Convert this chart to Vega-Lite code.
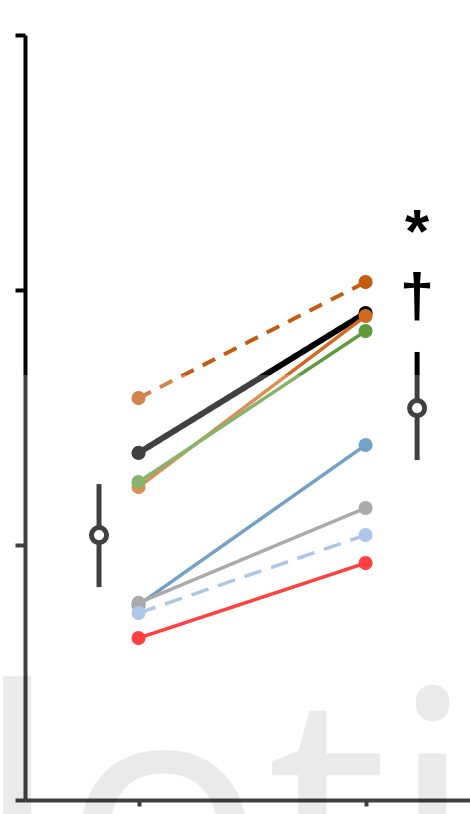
{
  "$schema": "https://vega.github.io/schema/vega-lite/v6.json",
  "width": 445,
  "height": 765,
  "autosize": {"type": "none"},
  "padding": {"left": 25, "top": 35, "right": 0, "bottom": 14},
  "background": "white",
  "config": {"view": {"stroke": null}},
  "datasets": {
    "subjects": [
      {"subject": "P1", "time": 1, "score": 1.361},
      {"subject": "P1", "time": 2, "score": 1.910},
      {"subject": "P2", "time": 1, "score": 1.227},
      {"subject": "P2", "time": 2, "score": 1.898},
      {"subject": "P3", "time": 1, "score": 1.247},
      {"subject": "P3", "time": 2, "score": 1.839},
      {"subject": "P4", "time": 1, "score": 0.765},
      {"subject": "P4", "time": 2, "score": 1.392},
      {"subject": "P5", "time": 1, "score": 0.773},
      {"subject": "P5", "time": 2, "score": 1.145},
      {"subject": "P6", "time": 1, "score": 0.733},
      {"subject": "P6", "time": 2, "score": 1.039},
      {"subject": "P7", "time": 1, "score": 0.635},
      {"subject": "P7", "time": 2, "score": 0.929},
      {"subject": "P8", "time": 1, "score": 1.576},
      {"subject": "P8", "time": 2, "score": 2.031}
    ],
    "summary": [
      {"time": 0.826, "mean": 1.039, "lo": 0.835, "hi": 1.239},
      {"time": 2.227, "mean": 1.537, "lo": 1.333, "hi": 1.757}
    ],
    "significance": [
      {"label": "*", "time": 2.227, "score": 2.149},
      {"label": "†", "time": 2.227, "score": 1.898}
    ],
    "watermark": [
      {"label": "loti", "time": 0.275, "score": -0.537}
    ]
  },
  "layer": [
    {
      "data": {"name": "subjects"},
      "mark": {"type": "line", "strokeCap": "butt"},
      "encoding": {
        "x": {
          "field": "time", "type": "quantitative",
          "scale": {"domain": [0.5, 2.46], "nice": false, "zero": false},
          "axis": {"values": [1, 2], "labels": false, "title": null, "grid": false,
                   "domainColor": "black", "domainWidth": 4,
                   "tickColor": "black", "tickWidth": 4, "tickSize": 6}
        },
        "y": {
          "field": "score", "type": "quantitative",
          "scale": {"domain": [0, 3], "nice": false, "zero": false},
          "axis": {"values": [0, 1, 2, 3], "labels": false, "title": null, "grid": false,
                   "domainColor": "black", "domainWidth": 4,
                   "tickColor": "black", "tickWidth": 4, "tickSize": 10}
        },
        "color": {
          "field": "subject", "type": "nominal", "legend": null,
          "scale": {
            "domain": ["P1", "P2", "P3", "P4", "P5", "P6", "P7", "P8"],
            "range": ["#000000", "#d2691e", "#5e9a3c", "#4682b4", "#8e8e8e", "#93b5e0", "#ff0000", "#c55a11"]
          }
        },
        "strokeWidth": {
          "field": "subject", "type": "nominal", "legend": null,
          "scale": {
            "type": "ordinal",
            "domain": ["P1", "P2", "P3", "P4", "P5", "P6", "P7", "P8"],
            "range": [6, 3.5, 3.5, 3.5, 3.5, 3.5, 3.5, 4]
          }
        },
        "strokeDash": {
          "field": "subject", "type": "nominal", "legend": null,
          "scale": {
            "domain": ["P1", "P2", "P3", "P4", "P5", "P6", "P7", "P8"],
            "range": [[1, 0], [1, 0], [1, 0], [1, 0], [1, 0], [18, 10], [1, 0], [14, 10]]
          }
        }
      }
    },
    {
      "data": {"name": "subjects"},
      "mark": {"type": "point", "filled": true, "size": 200, "opacity": 1},
      "encoding": {
        "x": {"field": "time", "type": "quantitative"},
        "y": {"field": "score", "type": "quantitative"},
        "color": {"field": "subject", "type": "nominal", "legend": null}
      }
    },
    {
      "data": {"name": "summary"},
      "mark": {"type": "rule", "color": "black", "strokeWidth": 5},
      "encoding": {
        "x": {"field": "time", "type": "quantitative"},
        "y": {"field": "lo", "type": "quantitative"},
        "y2": {"field": "hi"}
      }
    },
    {
      "data": {"name": "summary"},
      "mark": {"type": "point", "filled": false, "fill": "white", "stroke": "black", "strokeWidth": 5, "size": 230, "opacity": 1},
      "encoding": {
        "x": {"field": "time", "type": "quantitative"},
        "y": {"field": "mean", "type": "quantitative"}
      }
    },
    {
      "data": {"name": "significance"},
      "mark": {"type": "text", "font": "Liberation Sans", "fontWeight": "bold", "fontSize": 62, "align": "center", "baseline": "alphabetic", "color": "black"},
      "encoding": {
        "x": {"field": "time", "type": "quantitative"},
        "y": {"field": "score", "type": "quantitative"},
        "text": {"field": "label"}
      }
    },
    {
      "data": {"values": [{}]},
      "mark": {"type": "rect", "color": "white", "opacity": 0.25},
      "encoding": {
        "x": {"datum": 0.39},
        "x2": {"datum": 2.47},
        "y": {"datum": 1.667},
        "y2": {"datum": -0.06}
      }
    },
    {
      "data": {"name": "watermark"},
      "mark": {"type": "text", "font": "Open Sans", "fontSize": 343, "align": "left", "baseline": "alphabetic", "color": "black", "opacity": 0.08},
      "encoding": {
        "x": {"field": "time", "type": "quantitative"},
        "y": {"field": "score", "type": "quantitative"},
        "text": {"field": "label"}
      }
    }
  ]
}
